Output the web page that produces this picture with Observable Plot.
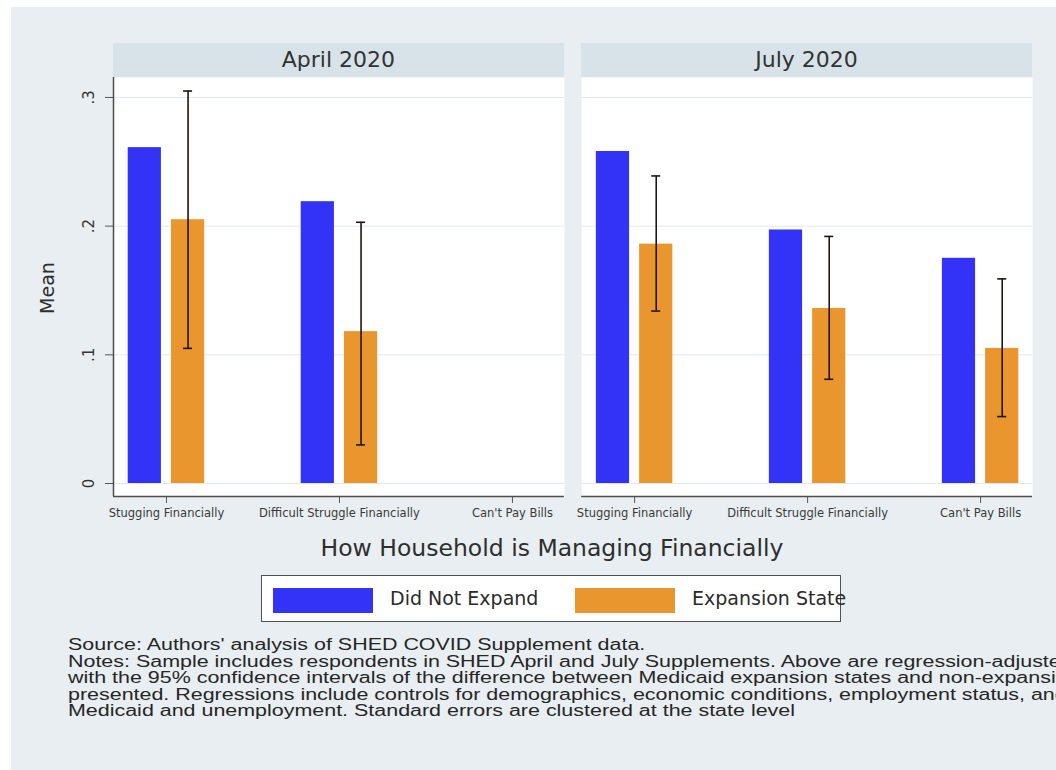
<!DOCTYPE html>
<html>
<head>
<meta charset="utf-8">
<script src="https://cdn.jsdelivr.net/npm/d3@7"></script>
<script src="https://cdn.jsdelivr.net/npm/@observablehq/plot@0.6"></script>
<style>
  html, body { margin: 0; padding: 0; background: #ffffff; overflow: hidden; }
  body { width: 1056px; height: 770px; position: relative; font-family: "DejaVu Sans", sans-serif; color: #2e2e2e; }
  #bg { position: absolute; left: 11px; top: 7px; width: 1045px; height: 763px; background: #e8eef1; }
  #chart { position: absolute; left: 0; top: 0; }
  .strip { position: absolute; top: 43px; height: 34px; line-height: 34px; background: #d8e3e9; text-align: center; font-size: 22px; color: #333; }
  .xtitle { position: absolute; left: 0; width: 1104px; top: 534px; line-height: 28px; text-align: center; font-size: 23.5px; color: #2e2e2e; }
  .ytitle { position: absolute; left: -3px; top: 276px; width: 100px; height: 24px; line-height: 24px; text-align: center; font-size: 19px; color: #2e2e2e; transform: rotate(-90deg); }
  .legend { position: absolute; left: 261px; top: 575px; width: 580px; height: 47px; box-sizing: border-box; border: 1px solid #505050; background: #ffffff; overflow: visible; }
  .swatch { position: absolute; top: 12px; width: 100px; height: 25px; }
  .ltext { position: absolute; top: 0; height: 45px; line-height: 45px; font-size: 19px; white-space: nowrap; color: #2b2b2b; }
  .notes { position: absolute; left: 68px; top: 637px; font-family: "Liberation Sans", Arial, sans-serif; font-size: 16px; line-height: 16.6px; white-space: nowrap; color: #262626; transform: scaleX(1.34); transform-origin: left top; }
</style>
</head>
<body>
<div id="bg"></div>
<div id="chart"></div>
<script>
// Panels (survey waves), categories and series
const periods = ["April 2020", "July 2020"];
const categories = ["Stugging Financially", "Difficult Struggle Financially", "Can't Pay Bills"];
const seriesNames = ["Did Not Expand", "Expansion State"];
const seriesColors = ["#3333f7", "#e9962f"];

// Regression-adjusted means (April has no "Can't Pay Bills" estimate)
const didNotExpandApril = [0.261, 0.219, null];
const expansionApril    = [0.205, 0.118, null];
const didNotExpandJuly  = [0.258, 0.197, 0.175];
const expansionJuly     = [0.186, 0.136, 0.105];

// 95% confidence intervals drawn on the expansion-state bars
const ciLowApril  = [0.105, 0.030, null];
const ciHighApril = [0.305, 0.203, null];
const ciLowJuly   = [0.134, 0.081, 0.052];
const ciHighJuly  = [0.239, 0.192, 0.159];

// Y-axis ticks and notes below the chart
const yTicks = [0, 0.1, 0.2, 0.3];
const notesLines = [
  "Source: Authors' analysis of SHED COVID Supplement data.",
  "Notes: Sample includes respondents in SHED April and July Supplements. Above are regression-adjusted",
  "with the 95% confidence intervals of the difference between Medicaid expansion states and non-expansion",
  "presented. Regressions include controls for demographics, economic conditions, employment status, and",
  "Medicaid and unemployment. Standard errors are clustered at the state level"
];

// Tidy tables for the marks
const meansByPeriod = [[didNotExpandApril, expansionApril], [didNotExpandJuly, expansionJuly]];
const ciByPeriod = [[ciLowApril, ciHighApril], [ciLowJuly, ciHighJuly]];
const barWidth = 0.192, halfGap = 0.029, capHalf = 0.026;

const bars = [];
const intervals = [];
periods.forEach((period, p) => {
  categories.forEach((cat, c) => {
    seriesNames.forEach((series, s) => {
      const mean = meansByPeriod[p][s][c];
      if (mean == null) return;
      const x1 = s === 0 ? c - halfGap - barWidth : c + halfGap;
      bars.push({period, category: cat, series, mean, x1, x2: x1 + barWidth});
    });
    const lo = ciByPeriod[p][0][c], hi = ciByPeriod[p][1][c];
    if (lo != null) intervals.push({period, x: c + halfGap + barWidth / 2, lo, hi});
  });
});
const caps = intervals.flatMap(d => [{...d, y: d.lo}, {...d, y: d.hi}]);

const xDomain = [-0.306, 2.30];
const yDomain = [-0.0101, 0.3155];
const tickFmt = d => d === 0 ? "0" : d3.format(".1f")(d).replace(/^0/, "");

const plot = Plot.plot({
  width: 1056,
  height: 565,
  marginLeft: 113,
  marginRight: 24,
  marginTop: 77,
  marginBottom: 69,
  style: {background: "transparent", fontFamily: "DejaVu Sans, sans-serif", color: "#444", overflow: "visible"},
  fx: {domain: periods, paddingInner: 0.037, paddingOuter: 0, round: false, axis: null},
  x: {domain: xDomain, axis: null},
  y: {domain: yDomain, axis: null},
  color: {domain: seriesNames, range: seriesColors},
  marks: [
    Plot.frame({fill: "white", stroke: null}),
    Plot.gridY(yTicks, {stroke: "#e3e8ec", strokeOpacity: 1}),
    Plot.axisY(yTicks, {tickFormat: tickFmt, tickRotate: -90, tickSize: 8, tickPadding: 12, fontSize: 15, label: null, stroke: "#555", color: "#333"}),
    Plot.axisX([0, 1, 2], {tickFormat: i => categories[i], tickSize: 7, tickPadding: 5, fontSize: 11.5, label: null, stroke: "#555", color: "#3a3a3a"}),
    Plot.rectY(bars, {fx: "period", x1: "x1", x2: "x2", y: "mean", fill: "series"}),
    Plot.ruleX(intervals, {fx: "period", x: "x", y1: "lo", y2: "hi", stroke: "#1d1410", strokeWidth: 1.6}),
    Plot.ruleY(caps, {fx: "period", y: "y", x1: d => d.x - capHalf, x2: d => d.x + capHalf, stroke: "#1d1410", strokeWidth: 1.6}),
    Plot.ruleY([yDomain[0]], {stroke: "#4d4d4d", strokeWidth: 1.5}),
    Plot.ruleX([periods[0]], {fx: d => d, x: () => xDomain[0], stroke: "#4d4d4d", strokeWidth: 1.5})
  ]
});

const chart = document.getElementById("chart");
chart.appendChild(plot);

// Panel header strips, placed from the facet scale
const fx = plot.scale("fx");
const bw = fx.bandwidth;
periods.forEach(period => {
  const strip = document.createElement("div");
  strip.className = "strip";
  strip.style.left = fx.apply(period) + "px";
  strip.style.width = bw + "px";
  strip.textContent = period;
  chart.appendChild(strip);
});

// Axis titles
const xTitle = document.createElement("div");
xTitle.className = "xtitle";
xTitle.textContent = "How Household is Managing Financially";
chart.appendChild(xTitle);

const yTitle = document.createElement("div");
yTitle.className = "ytitle";
yTitle.textContent = "Mean";
chart.appendChild(yTitle);

// Legend
const legend = document.createElement("div");
legend.className = "legend";
seriesNames.forEach((name, i) => {
  const sw = document.createElement("div");
  sw.className = "swatch";
  sw.style.left = (11 + i * 302) + "px";
  sw.style.background = seriesColors[i];
  legend.appendChild(sw);
  const t = document.createElement("div");
  t.className = "ltext";
  t.style.left = (128 + i * 302) + "px";
  t.textContent = name;
  legend.appendChild(t);
});
chart.appendChild(legend);

// Source and notes
const notes = document.createElement("div");
notes.className = "notes";
notesLines.forEach(line => {
  const d = document.createElement("div");
  d.textContent = line;
  notes.appendChild(d);
});
chart.appendChild(notes);
</script>
</body>
</html>
